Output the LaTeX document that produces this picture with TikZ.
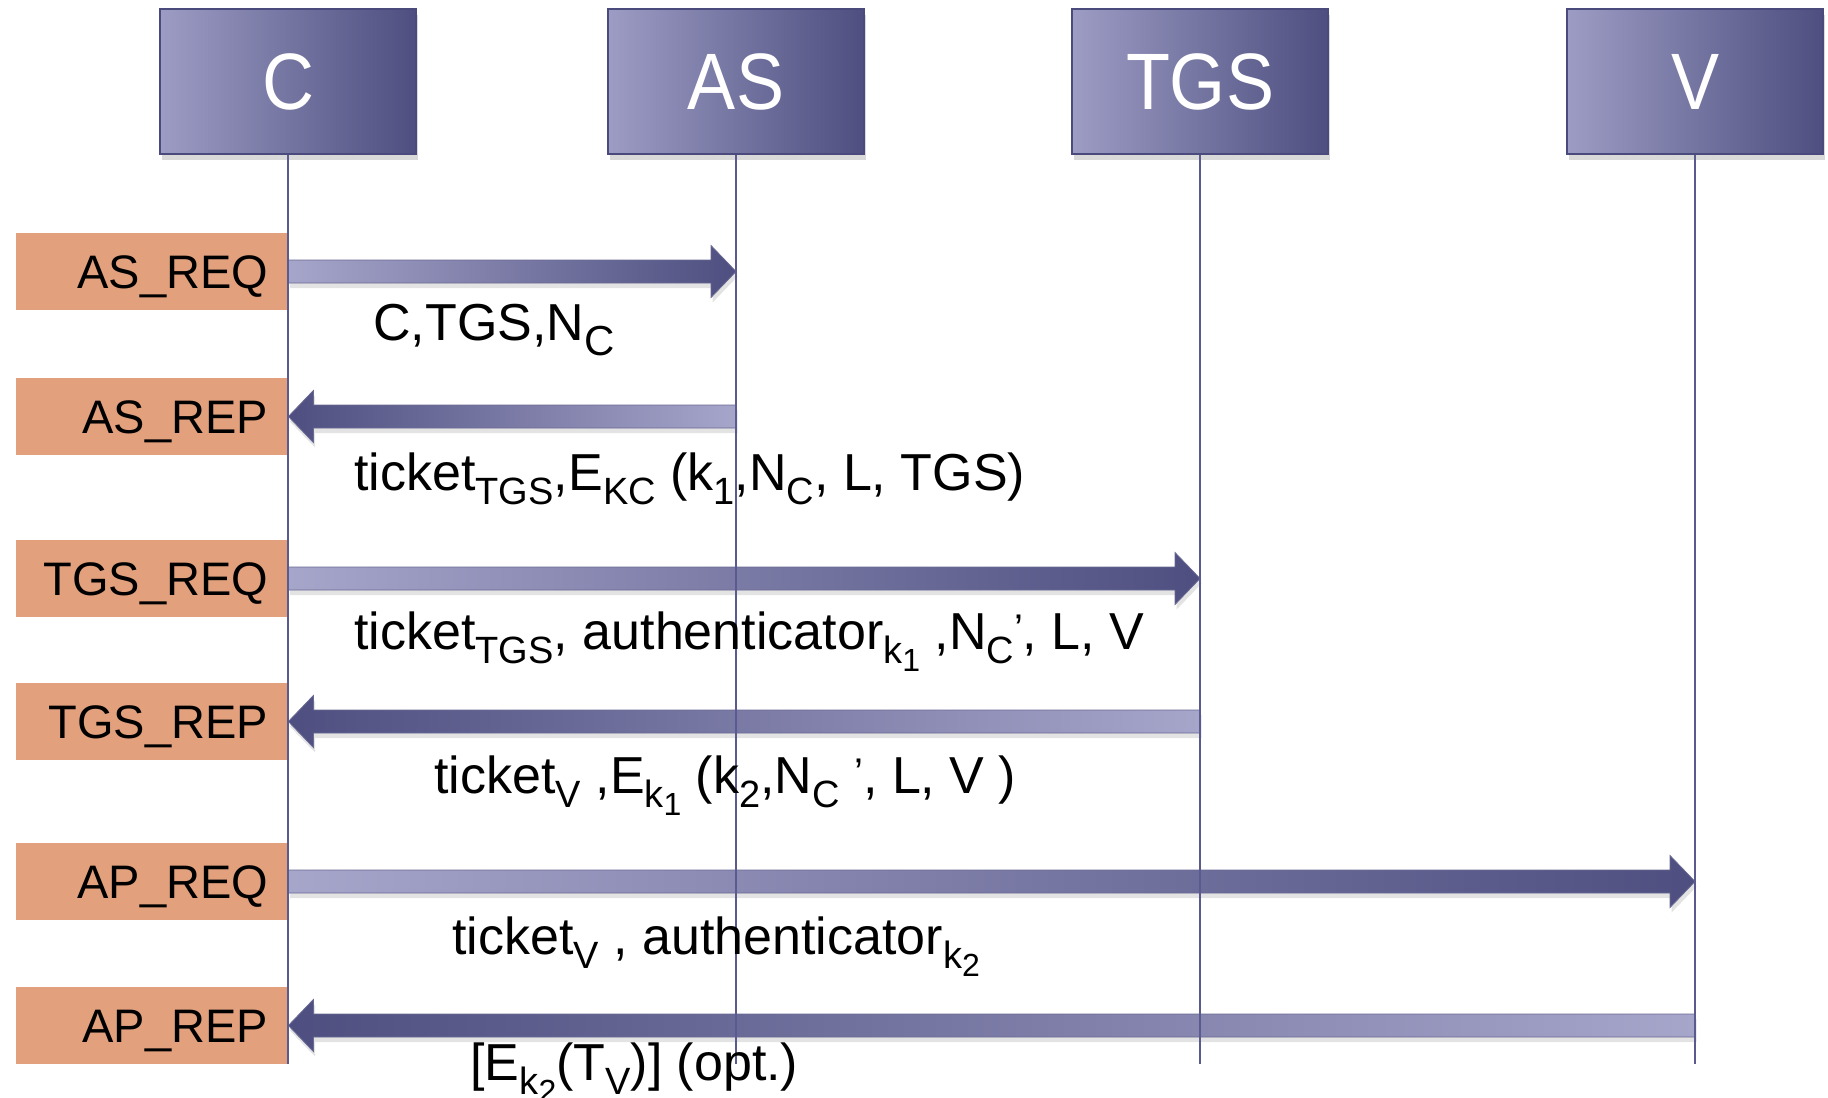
\documentclass[tikz,border=0pt]{standalone}
\usepackage{fontspec}
\setmainfont{Liberation Sans}
\usetikzlibrary{calc,shadows}
\definecolor{boxlight}{HTML}{9C9CC4}
\definecolor{boxdark}{HTML}{4E4E80}
\definecolor{boxedge}{HTML}{4A4A7C}
\definecolor{lblfill}{HTML}{E2A07D}
\definecolor{lifecol}{HTML}{5A5A8E}
\definecolor{arrlight}{HTML}{A6A6CB}
\definecolor{arrdark}{HTML}{4E4E80}
\newcommand\sbs[1]{\raisebox{-0.28em}{\fontsize{19}{19}\selectfont #1}}
\newcommand\ssb[1]{\raisebox{-0.2em}{\fontsize{16}{16}\selectfont #1}}
\newcommand\prm{\raisebox{0.12em}{\fontsize{20}{20}\selectfont ’}}
\newcommand\actorname[1]{\scalebox{0.9}[1]{#1}}
\newcommand\fatarrow[2]{%
  \path[msgarrow] let \p1=(#1), \p2=(#2), \p3=($(#2)!12.5pt!(#1)$) in
    (\x1,{\y1+5.75pt}) -- (\x3,{\y1+5.75pt}) -- (\x3,{\y1+13pt}) -- (\x2,\y2)
    -- (\x3,{\y1-13pt}) -- (\x3,{\y1-5.75pt}) -- (\x1,{\y1-5.75pt}) -- cycle;}
\begin{document}
\begin{tikzpicture}[x=0.5pt,y=-0.5pt,
  actor/.style={draw=boxedge, line width=0.6pt, left color=boxlight, right color=boxdark,
    minimum width=128pt, minimum height=72.5pt, inner sep=0pt, text=white,
    font=\fontsize{40}{40}\selectfont,
    drop shadow={shadow xshift=1pt, shadow yshift=-3pt, opacity=0.3}},
  lbl/.style={fill=lblfill, minimum height=38.5pt, text width=116pt, align=right,
    inner xsep=10pt, inner ysep=0pt, text height=16.8pt, text depth=0pt,
    font=\fontsize{23.5}{23.5}\selectfont},
  life/.style={draw=lifecol, line width=1pt},
  msgarrow/.style={draw=arrdark!85, line width=0.4pt,
    drop shadow={shadow xshift=0.8pt, shadow yshift=-2.5pt, opacity=0.22}},
  rarr/.style={msgarrow/.append style={left color=arrlight, right color=arrdark}},
  larr/.style={msgarrow/.append style={left color=arrdark, right color=arrlight}},
  msg/.style={anchor=base west, inner sep=0pt, font=\fontsize{26}{26}\selectfont}]
\useasboundingbox (0,0) rectangle (1828,1098);
% actors
\node[actor] (C)   at (288,81.5)  {\actorname{C}};
\node[actor] (AS)  at (736,81.5)  {\actorname{AS}};
\node[actor] (TGS) at (1200,81.5) {\actorname{TGS}};
\node[actor] (V)   at (1695,81.5) {\actorname{V}};
% labels
\node[lbl] (asreq)  at (152,271.5)  {AS\_REQ};
\node[lbl] (asrep)  at (152,416.5)  {AS\_REP};
\node[lbl] (tgsreq) at (152,578.5)  {TGS\_REQ};
\node[lbl] (tgsrep) at (152,721.5)  {TGS\_REP};
\node[lbl] (apreq)  at (152,881.5)  {AP\_REQ};
\node[lbl] (aprep)  at (152,1025.5) {AP\_REP};
% arrow end points on lifelines
\coordinate (m1h) at (asreq.east -| AS.south);
\coordinate (m2t) at (asrep.east -| AS.south);
\coordinate (m3h) at (tgsreq.east -| TGS.south);
\coordinate (m4t) at (tgsrep.east -| TGS.south);
\coordinate (m5h) at (apreq.east -| V.south);
\coordinate (m6t) at (aprep.east -| V.south);
% arrows
\begin{scope}[rarr]\fatarrow{asreq.east}{m1h}\end{scope}
\begin{scope}[larr]\fatarrow{m2t}{asrep.east}\end{scope}
\begin{scope}[rarr]\fatarrow{tgsreq.east}{m3h}\end{scope}
\begin{scope}[larr]\fatarrow{m4t}{tgsrep.east}\end{scope}
\begin{scope}[rarr]\fatarrow{apreq.east}{m5h}\end{scope}
\begin{scope}[larr]\fatarrow{m6t}{aprep.east}\end{scope}
% lifelines
\coordinate (Cend)   at (288,1064);
\coordinate (ASend)  at (736,1064);
\coordinate (TGSend) at (1200,1064);
\coordinate (Vend)   at (1695,1064);
\draw[life] (C.south) -- (Cend);
\draw[life] (AS.south) -- (ASend);
\draw[life] (TGS.south) -- (TGSend);
\draw[life] (V.south) -- (Vend);
% messages
\node[msg] (t1) at (373,340)  {C,TGS,N\raisebox{-0.3em}{\fontsize{21}{21}\selectfont C}};
\node[msg] (t2) at (354,490)  {ticket\sbs{TGS},E\sbs{KC} (k\sbs{1},N\sbs{C}, L, TGS)};
\node[msg] (t3) at (354,649)  {ticket\sbs{TGS}, authenticator\sbs{k\ssb{1}} ,N\sbs{C}\prm, L, V};
\node[msg] (t4) at (434,793)  {ticket\sbs{V} ,E\sbs{k\ssb{1}} (k\sbs{2},N\sbs{C} \prm, L, V )};
\node[msg] (t5) at (452,954)  {ticket\sbs{V} , authenticator\sbs{k\ssb{2}}};
\node[msg] (t6) at (470,1080) {[E\sbs{k\ssb{2}}(T\sbs{V})] (opt.)};
\end{tikzpicture}
\end{document}
